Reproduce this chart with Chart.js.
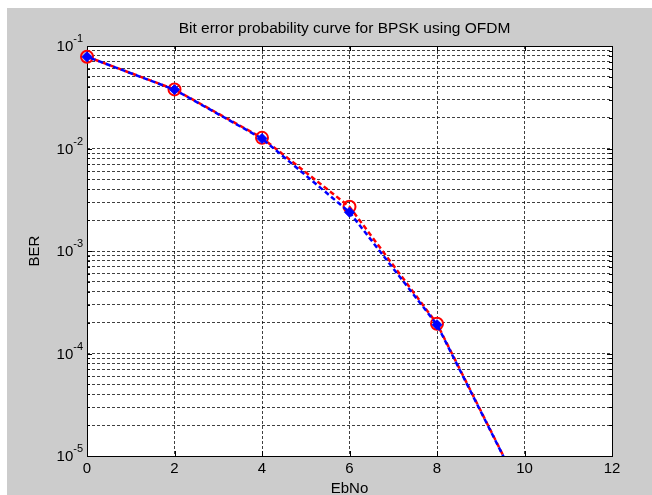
<!DOCTYPE html>
<html>
<head>
<meta charset="utf-8">
<script src="https://cdn.jsdelivr.net/npm/chart.js@4"></script>
<style>
    html, body { margin: 0; padding: 0; background: #fff; }
    #wrap { width: 652px; height: 495px; }
</style>
</head>
<body>
<div id="wrap"><canvas id="myChart" width="652" height="495"></canvas></div>
<script>
// Eb/No in dB
const ebno = [0, 2, 4, 6, 8, 10];
// simulated BER (red, circles) and theoretical BER (blue, diamonds)
const berSim = [0.0786, 0.0377, 0.0127, 0.0027, 1.95e-4, 3.9e-6];
const berTheory = [0.0786, 0.0375, 0.0125, 0.00239, 1.91e-4, 3.87e-6];

const xTicks = [0, 2, 4, 6, 8, 10, 12];
const yDecades = [-5, -4, -3, -2, -1];
const titleText = "Bit error probability curve for BPSK using OFDM";

const yTickVals = [];
yDecades.forEach((d) => {
    for (let m = 1; m <= 9; m++) {
        const v = m * Math.pow(10, d);
        if (v <= 0.1 + 1e-12) yTickVals.push(v);
    }
});

const FONT = "'Liberation Sans', Arial, sans-serif";

// grey figure background, white axes, frame and inward ticks like matlab
const matlabLook = {
    id: "matlabLook",
    beforeDraw(chart) {
        const { ctx, chartArea: a } = chart;
        ctx.save();
        ctx.fillStyle = "#ffffff";
        ctx.fillRect(0, 0, chart.width, chart.height);
        ctx.fillStyle = "#cccccc";
        ctx.fillRect(7, 8, chart.width - 7, chart.height - 8);
        ctx.fillStyle = "#ffffff";
        ctx.fillRect(a.left, a.top, a.right - a.left, a.bottom - a.top);
        ctx.restore();
    },
    beforeDatasetsDraw(chart) {
        const { ctx, chartArea: a, scales } = chart;
        ctx.save();
        ctx.strokeStyle = "#000";
        ctx.lineWidth = 1;
        ctx.setLineDash([]);
        ctx.beginPath();
        xTicks.forEach((t) => {
            const px = Math.round(scales.x.getPixelForValue(t)) + 0.5;
            ctx.moveTo(px, a.bottom); ctx.lineTo(px, a.bottom - 5);
            ctx.moveTo(px, a.top); ctx.lineTo(px, a.top + 5);
        });
        yTickVals.forEach((v) => {
            const py = Math.round(scales.y.getPixelForValue(v)) + 0.5;
            const major = Math.abs(Math.log10(v) - Math.round(Math.log10(v))) < 1e-9;
            const len = major ? 5 : 3;
            ctx.moveTo(a.left, py); ctx.lineTo(a.left + len, py);
            ctx.moveTo(a.right, py); ctx.lineTo(a.right - len, py);
        });
        ctx.stroke();
        ctx.strokeRect(Math.round(a.left) + 0.5, Math.round(a.top) + 0.5,
            Math.round(a.right - a.left), Math.round(a.bottom - a.top));
        ctx.restore();
    },
    afterDraw(chart) {
        const { ctx, scales, chartArea: a } = chart;
        ctx.save();
        ctx.fillStyle = "#000";

        // title
        ctx.font = "15.5px " + FONT;
        ctx.textAlign = "center";
        ctx.textBaseline = "alphabetic";
        ctx.fillText(titleText, (a.left + a.right) / 2 - 5, 33);

        // y labels as 10 with superscript exponent
        ctx.textBaseline = "middle";
        const right = 83;
        yDecades.forEach((d) => {
            const py = scales.y.getPixelForValue(Math.pow(10, d));
            const sup = String(d);
            ctx.font = "11px " + FONT;
            const sw = ctx.measureText(sup).width;
            ctx.textAlign = "left";
            ctx.fillText(sup, right - sw, py - 7);
            ctx.font = "15px " + FONT;
            ctx.textAlign = "right";
            ctx.fillText("10", right - sw, py + 1);
        });
        ctx.restore();
    },
};

const ctx = document.getElementById("myChart").getContext("2d");
new Chart(ctx, {
    type: "line",
    data: {
        datasets: [
            {
                label: "Theory",
                data: ebno.map((x, i) => ({ x, y: berTheory[i] })),
                borderColor: "#0000ff",
                backgroundColor: "#0000ff",
                borderWidth: 2.5,
                borderDash: [5, 3],
                borderDashOffset: 4,
                pointStyle: "rectRot",
                pointRadius: 5,
                pointBorderWidth: 1,
                tension: 0,
                clip: { left: 10, top: 10, right: 0, bottom: 0 },
            },
            {
                label: "Simulation",
                data: ebno.map((x, i) => ({ x, y: berSim[i] })),
                borderColor: "#ff0000",
                backgroundColor: "rgba(255,0,0,0)",
                borderWidth: 2.5,
                borderDash: [5, 3],
                pointStyle: "circle",
                pointRadius: 6,
                pointBorderWidth: 2,
                pointBorderColor: "#ff0000",
                tension: 0,
                clip: { left: 10, top: 10, right: 0, bottom: 0 },
            },
        ],
    },
    options: {
        responsive: false,
        animation: false,
        layout: { padding: { left: 0, right: 40, top: 46, bottom: 0 } },
        plugins: {
            legend: { display: false },
            tooltip: { enabled: false },
            title: { display: false },
        },
        scales: {
            x: {
                type: "linear",
                min: 0,
                max: 12,
                afterBuildTicks: (s) => { s.ticks = xTicks.map((v) => ({ value: v })); },
                afterFit: (s) => { s.height = 39; },
                ticks: {
                    color: "#000",
                    font: { family: FONT, size: 15 },
                    padding: 4,
                    maxRotation: 0,
                    autoSkip: false,
                },
                grid: { color: "rgba(0,0,0,0.75)", lineWidth: 1, drawTicks: false },
                border: { display: false, dash: [3, 2] },
                title: {
                    display: true,
                    text: "EbNo",
                    color: "#000",
                    font: { family: FONT, size: 15, lineHeight: 0.8 },
                    padding: { top: 0, bottom: 0 },
                },
            },
            y: {
                type: "logarithmic",
                min: 1e-5,
                max: 0.1,
                afterBuildTicks: (s) => { s.ticks = yTickVals.map((v) => ({ value: v })); },
                afterFit: (s) => { s.width = 87; },
                ticks: { display: false, autoSkip: false },
                grid: { color: "rgba(0,0,0,0.75)", lineWidth: 1, drawTicks: false },
                border: { display: false, dash: [3, 2] },
                title: {
                    display: true,
                    text: "BER",
                    color: "#000",
                    font: { family: FONT, size: 15 },
                    padding: { top: 26, bottom: 0 },
                },
            },
        },
    },
    plugins: [matlabLook],
});
</script>
</body>
</html>
